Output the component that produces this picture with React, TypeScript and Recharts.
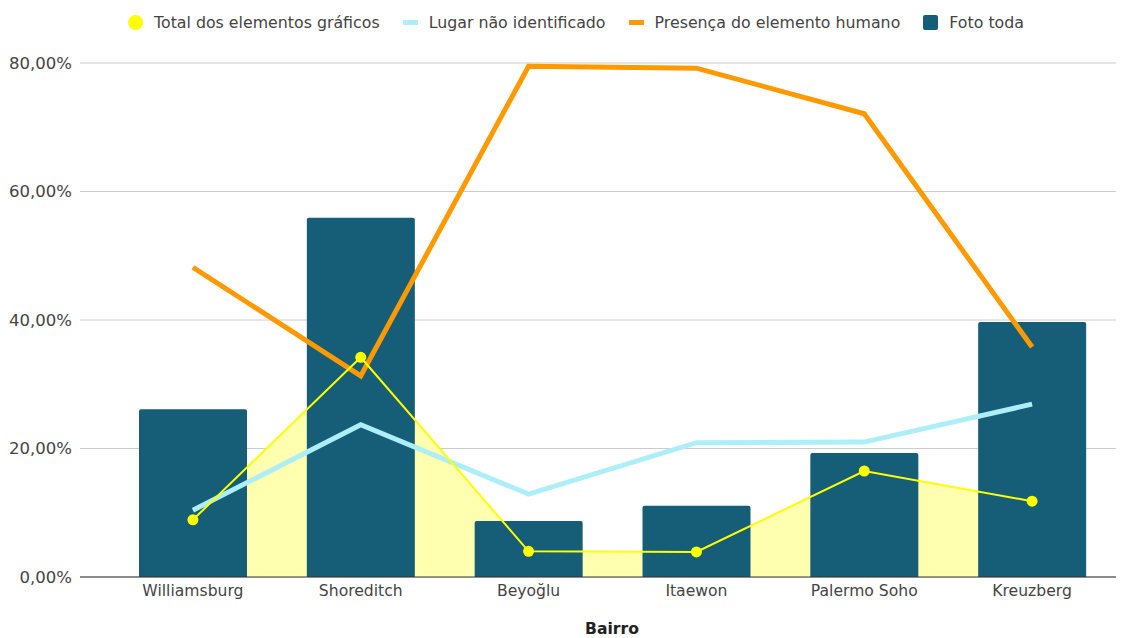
import React from "react";
import {
  ComposedChart,
  Bar,
  Line,
  Area,
  XAxis,
  YAxis,
  CartesianGrid,
} from "recharts";

// Neighbourhoods on the category axis
const bairros = ["Williamsburg", "Shoreditch", "Beyoğlu", "Itaewon", "Palermo Soho", "Kreuzberg"];

// Series values, in percent
const totalElementos = [8.9, 34.2, 4.0, 3.9, 16.5, 11.8];
const lugarNaoIdentificado = [10.4, 23.7, 12.9, 20.9, 21.0, 26.9];
const presencaHumana = [48.2, 31.3, 79.5, 79.2, 72.1, 35.8];
const fotoToda = [26.1, 55.9, 8.7, 11.1, 19.3, 39.7];

// Y axis ticks, in percent
const yTicks = [0, 20, 40, 60, 80];

const seriesNames = {
  total: "Total dos elementos gráficos",
  lugar: "Lugar não identificado",
  humano: "Presença do elemento humano",
  foto: "Foto toda",
};

const COLORS = {
  total: "#ffff00",
  totalFill: "#ffffb0",
  lugar: "#aeeef8",
  humano: "#ff9900",
  foto: "#165e77",
  text: "#444444",
};

const FONT = "'DejaVu Sans', Verdana, sans-serif";

const data = bairros.map((bairro, i) => ({
  bairro,
  total: totalElementos[i],
  lugar: lugarNaoIdentificado[i],
  humano: presencaHumana[i],
  foto: fotoToda[i],
}));

const formatPercent = (v: number) => `${v.toFixed(2).replace(".", ",")}%`;

type LegendItem = { key: string; label: string; icon: React.ReactNode };

const legendItems: LegendItem[] = [
  {
    key: "total",
    label: seriesNames.total,
    icon: (
      <span
        style={{
          width: 15,
          height: 15,
          borderRadius: "50%",
          background: COLORS.total,
          display: "inline-block",
        }}
      />
    ),
  },
  {
    key: "lugar",
    label: seriesNames.lugar,
    icon: (
      <span style={{ width: 15, height: 5, background: COLORS.lugar, display: "inline-block" }} />
    ),
  },
  {
    key: "humano",
    label: seriesNames.humano,
    icon: (
      <span style={{ width: 15, height: 5, background: COLORS.humano, display: "inline-block" }} />
    ),
  },
  {
    key: "foto",
    label: seriesNames.foto,
    icon: (
      <span
        style={{
          width: 15,
          height: 15,
          borderRadius: 2,
          background: COLORS.foto,
          display: "inline-block",
        }}
      />
    ),
  },
];

function ChartLegend() {
  return (
    <div
      style={{
        position: "absolute",
        top: 12,
        left: 128,
        height: 20,
        display: "flex",
        alignItems: "center",
        fontFamily: FONT,
        fontSize: 15.8,
        color: COLORS.text,
        whiteSpace: "nowrap",
      }}
    >
      {legendItems.map((item) => (
        <div
          key={item.key}
          style={{ display: "flex", alignItems: "center", marginRight: 23 }}
        >
          <span style={{ width: 15, display: "flex", justifyContent: "center" }}>{item.icon}</span>
          <span style={{ marginLeft: 11 }}>{item.label}</span>
        </div>
      ))}
    </div>
  );
}

export default function App() {
  return (
    <div
      style={{
        position: "absolute",
        top: 0,
        left: 0,
        width: 1132,
        height: 638,
        background: "#ffffff",
      }}
    >
      <ChartLegend />
      <ComposedChart
        width={1132}
        height={638}
        data={data}
        margin={{ top: 63, right: 16, bottom: 31, left: 0 }}
        barSize={108}
      >
        <CartesianGrid vertical={false} stroke="#cccccc" strokeWidth={1} />
        <XAxis
          dataKey="bairro"
          height={30}
          padding={{ left: 29, right: 0 }}
          tickLine={false}
          axisLine={{ stroke: "#333333", strokeWidth: 1 }}
          tick={{ fill: COLORS.text, fontSize: 15.6, fontFamily: FONT }}
          tickMargin={2}
          label={{
            value: "Bairro",
            position: "insideBottom",
            offset: -27,
            dx: 14,
            fill: "#222222",
            fontSize: 15.6,
            fontWeight: "bold",
            fontFamily: FONT,
          }}
        />
        <YAxis
          width={80}
          domain={[0, 80]}
          ticks={yTicks}
          tickFormatter={formatPercent}
          tickLine={false}
          axisLine={false}
          tick={{ fill: COLORS.text, fontSize: 16.5, fontFamily: FONT }}
        />
        <Area
          type="linear"
          dataKey="total"
          stroke="none"
          fill={COLORS.totalFill}
          fillOpacity={1}
          dot={false}
          activeDot={false}
          isAnimationActive={false}
          legendType="none"
        />
        <Bar
          dataKey="foto"
          name={seriesNames.foto}
          fill={COLORS.foto}
          radius={[2, 2, 0, 0]}
          isAnimationActive={false}
        />
        <Line
          type="linear"
          dataKey="lugar"
          name={seriesNames.lugar}
          stroke={COLORS.lugar}
          strokeWidth={5}
          dot={false}
          activeDot={false}
          isAnimationActive={false}
        />
        <Line
          type="linear"
          dataKey="humano"
          name={seriesNames.humano}
          stroke={COLORS.humano}
          strokeWidth={5}
          dot={false}
          activeDot={false}
          isAnimationActive={false}
        />
        <Line
          type="linear"
          dataKey="total"
          name={seriesNames.total}
          stroke={COLORS.total}
          strokeWidth={2}
          dot={{ r: 5.5, fill: COLORS.total, stroke: "none" }}
          activeDot={false}
          isAnimationActive={false}
        />
      </ComposedChart>
    </div>
  );
}
